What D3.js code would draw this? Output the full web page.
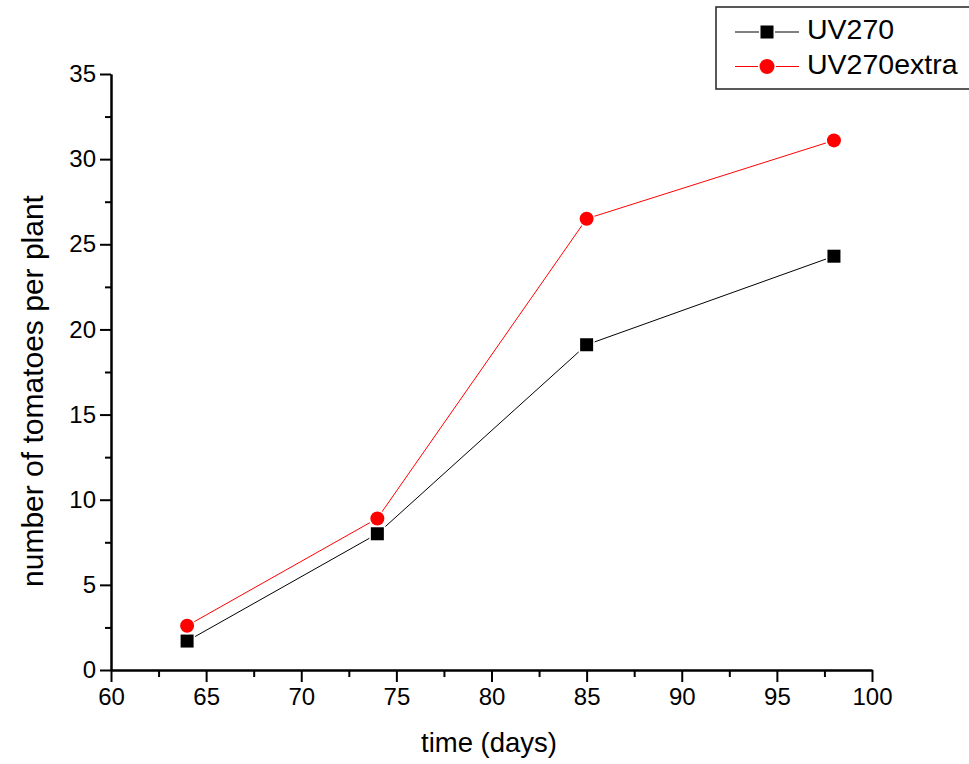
<!DOCTYPE html>
<html>
<head>
<meta charset="utf-8">
<script src="https://cdn.jsdelivr.net/npm/d3@7"></script>
<style>
  body { margin: 0; background: #fff; }
  svg { display: block; font-family: "Liberation Sans", Arial, sans-serif; }
</style>
</head>
<body>
<div id="chart"></div>
<script>
// time (days) at which tomatoes were counted
var days = [64, 74, 85, 98];
var uv270 = [1.7, 8.0, 19.1, 24.3];
var uv270extra = [2.6, 8.9, 26.5, 31.1];
var seriesNames = ["UV270", "UV270extra"];
var xTicks = [60, 65, 70, 75, 80, 85, 90, 95, 100];
var yTicks = [0, 5, 10, 15, 20, 25, 30, 35];

var width = 969, height = 764;
var margin = { top: 74, right: 97, bottom: 94, left: 111 };

var svg = d3.select("#chart").append("svg")
  .attr("width", width)
  .attr("height", height);

var x = d3.scaleLinear().domain([60, 100]).range([margin.left, width - margin.right]);
var y = d3.scaleLinear().domain([0, 35]).range([height - margin.bottom, margin.top]);

var minorX = d3.range(62.5, 100, 5);
var minorY = d3.range(2.5, 35, 5);

function styleAxis(g) {
  g.select(".domain").attr("stroke", "#000").attr("stroke-width", 2);
  g.selectAll(".tick line").attr("stroke", "#000").attr("stroke-width", 2);
  g.selectAll(".tick text").attr("fill", "#000").attr("font-size", 24);
}

// minor ticks first, then the major axis over them
svg.append("g")
  .attr("transform", "translate(0," + y(0) + ")")
  .call(d3.axisBottom(x).tickValues(minorX).tickSize(7).tickSizeOuter(0).tickFormat(""))
  .call(styleAxis);
svg.append("g")
  .attr("transform", "translate(0," + y(0) + ")")
  .call(d3.axisBottom(x).tickValues(xTicks).tickSize(12).tickSizeOuter(0).tickPadding(6).tickFormat(d3.format("d")))
  .call(styleAxis);

svg.append("g")
  .attr("transform", "translate(" + x(60) + ",0)")
  .call(d3.axisLeft(y).tickValues(minorY).tickSize(6).tickSizeOuter(0).tickFormat(""))
  .call(styleAxis);
svg.append("g")
  .attr("transform", "translate(" + x(60) + ",0)")
  .call(d3.axisLeft(y).tickValues(yTicks).tickSize(11).tickSizeOuter(0).tickPadding(4).tickFormat(d3.format("d")))
  .call(styleAxis);

// axis titles
svg.append("text")
  .attr("x", 489)
  .attr("y", 752)
  .attr("text-anchor", "middle")
  .attr("font-size", 27.5)
  .text("time (days)");

svg.append("text")
  .attr("transform", "translate(43," + 391 + ") rotate(-90)")
  .attr("text-anchor", "middle")
  .attr("font-size", 30)
  .text("number of tomatoes per plant");

var line = d3.line()
  .x(function(d, i) { return x(days[i]); })
  .y(function(d) { return y(d); });

var series = [
  { name: seriesNames[0], values: uv270, color: "#000000", shape: "square" },
  { name: seriesNames[1], values: uv270extra, color: "#ff0000", shape: "circle" }
];

function drawMarker(g, s, cx, cy, big) {
  var m;
  if (s.shape === "square") {
    var side = 13;
    m = g.append("rect")
      .attr("x", cx - side / 2).attr("y", cy - side / 2)
      .attr("width", side).attr("height", side);
  } else {
    m = g.append("circle")
      .attr("cx", cx).attr("cy", cy)
      .attr("r", big ? 7.5 : 7);
  }
  m.attr("fill", s.color)
    .attr("stroke", "#fff")
    .attr("stroke-width", 3)
    .style("paint-order", "stroke");
}

series.forEach(function(s) {
  var g = svg.append("g");
  g.append("path")
    .datum(s.values)
    .attr("fill", "none")
    .attr("stroke", s.color)
    .attr("stroke-width", 1)
    .attr("d", line);
  s.values.forEach(function(v, i) {
    drawMarker(g, s, x(days[i]), y(v), false);
  });
});

// legend
var legend = svg.append("g");
legend.append("rect")
  .attr("x", 716).attr("y", 7)
  .attr("width", 260).attr("height", 82)
  .attr("fill", "#fff")
  .attr("stroke", "#222")
  .attr("stroke-width", 1.5);

series.forEach(function(s, i) {
  var ly = 32 + i * 34.5;
  legend.append("line")
    .attr("x1", 735).attr("x2", 799)
    .attr("y1", ly).attr("y2", ly)
    .attr("stroke", s.color)
    .attr("stroke-width", 1);
  drawMarker(legend, s, 767, ly, true);
  legend.append("text")
    .attr("x", 807)
    .attr("y", ly + 7)
    .attr("font-size", 28.5)
    .attr("fill", "#000")
    .text(s.name);
});
</script>
</body>
</html>
